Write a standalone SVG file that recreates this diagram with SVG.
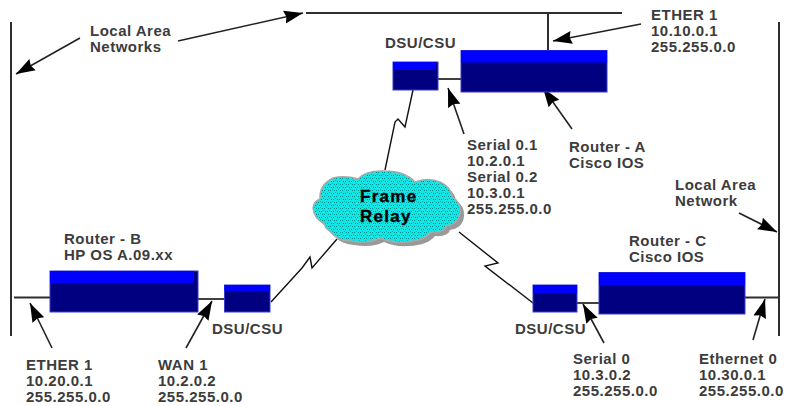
<svg xmlns="http://www.w3.org/2000/svg" width="785" height="406" viewBox="0 0 785 406">
<style>
text{font-family:"Liberation Sans",Arial,sans-serif;font-weight:700;font-size:15px;letter-spacing:.5px;fill:#3c3c3c}
.fr{font-size:17px;letter-spacing:1.300px;fill:#000;stroke:#000;stroke-width:.3px}
.body{fill:#000080;stroke:#3a3ad0;stroke-width:1}
.top{fill:#0000ff}
.bus{stroke:#2e2e2e;stroke-width:2;fill:none}
.link{stroke:#111;stroke-width:1.6;fill:none}
.zig{stroke:#111;stroke-width:1.4;fill:none}
.arr{stroke:#222;stroke-width:1.6;fill:none;marker-end:url(#ah)}
</style>
<defs>
<marker id="ah" markerUnits="userSpaceOnUse" markerWidth="20" markerHeight="14" refX="19" refY="7" orient="auto">
<path d="M0,0.500 L19,7 L0,13.500 L2,7 Z" fill="#000"/>
</marker>
<pattern id="dots" width="6" height="6" patternUnits="userSpaceOnUse">
<rect width="6" height="6" fill="#10e8e8"/>
<rect x="1" y="1" width="1" height="1" fill="#088"/>
<rect x="3" y="1" width="1" height="1" fill="#088"/>
<rect x="4" y="4" width="1" height="1" fill="#088"/>
<rect x="0" y="4" width="1" height="1" fill="#088"/>
<rect x="2" y="3" width="1" height="1" fill="#2aa"/>
<rect x="5" y="0" width="1" height="1" fill="#2aa"/>
</pattern>
<path id="cloudShape" d="M313,208 Q314,201 320,199 Q319,185 333,178 Q345,175 358,179 Q366,170 385,171 Q405,171 415,182 Q428,177 440,182 Q451,187 452,197 Q461,202 460,212 Q459,224 446,226 Q444,233 431,232 Q424,241 405,242 Q390,243 380,238 Q368,244 350,241 Q336,240 331,232 Q324,228 325,224 Q314,219 313,208 Z"/>
</defs>

<g id="connectors">
<path class="bus" d="M11,22V336"/>
<path class="bus" d="M306,13H622"/>
<path class="bus" d="M548,13V50"/>
<path class="bus" d="M779,22V336"/>
<path class="bus" d="M14,297.500H50"/>
<path class="bus" d="M745,297.500H779"/>
<path class="link" d="M438,79H461"/>
<path class="link" d="M198,299H224"/>
<path class="link" d="M577,303H599"/>
<path class="zig" d="M413,90L405,127L398,119L395,122L385,170"/>
<path class="zig" d="M271,302L302,268L310,257L312,268L337,239"/>
<path class="zig" d="M459,232L498,263L485,266L533,303"/>
<path class="arr" d="M80,38L16,74"/>
<path class="arr" d="M178,41L303,13"/>
<path class="arr" d="M641,24L553,41"/>
<path class="arr" d="M464,134L448,88"/>
<path class="arr" d="M572,129L543,88"/>
<path class="arr" d="M739,213L777,232"/>
<path class="arr" d="M52,348L30,303"/>
<path class="arr" d="M186,348L212,301"/>
<path class="arr" d="M604,343L583,304"/>
<path class="arr" d="M753,340L765,299"/>
</g>

<g id="router-a">
<rect class="body" x="461" y="50.500" width="146" height="41.500"/>
<rect class="top" x="461" y="50.500" width="146" height="12"/>
<text x="569" y="152">Router - A</text>
<text x="569" y="168">Cisco IOS</text>
</g>
<g id="dsu-a">
<rect class="body" x="393" y="62" width="45" height="28"/>
<rect class="top" x="393" y="62" width="43" height="8"/>
<text x="385" y="48">DSU/CSU</text>
</g>
<g id="router-b">
<rect class="body" x="50" y="271" width="148" height="41"/>
<rect class="top" x="50" y="271" width="144" height="12"/>
<text x="64" y="244">Router - B</text>
<text x="64" y="260">HP OS A.09.xx</text>
</g>
<g id="dsu-b">
<rect class="body" x="224.500" y="285" width="45.500" height="27"/>
<rect class="top" x="224.500" y="285" width="45.500" height="6"/>
<text x="212" y="334">DSU/CSU</text>
</g>
<g id="router-c">
<rect class="body" x="599" y="272.500" width="146" height="41.500"/>
<rect class="top" x="599" y="272.500" width="146" height="12.500"/>
<text x="629" y="246">Router - C</text>
<text x="629" y="262">Cisco IOS</text>
</g>
<g id="dsu-c">
<rect class="body" x="533" y="285" width="44" height="27"/>
<rect class="top" x="533" y="285" width="44" height="8"/>
<text x="515" y="334">DSU/CSU</text>
</g>
<g id="frame-relay">
<use href="#cloudShape" transform="translate(4,4)" fill="#999"/>
<use href="#cloudShape" fill="url(#dots)" stroke="#aaa" stroke-width="1.500"/>
<text class="fr" x="360" y="202">Frame</text>
<text class="fr" x="360" y="222">Relay</text>
</g>
<g id="labels">
<text x="90" y="36">Local Area</text>
<text x="90" y="52">Networks</text>
<text x="651" y="20">ETHER 1</text>
<text x="651" y="36">10.10.0.1</text>
<text x="651" y="52">255.255.0.0</text>
<text x="467" y="150">Serial 0.1</text>
<text x="467" y="166">10.2.0.1</text>
<text x="467" y="182">Serial 0.2</text>
<text x="467" y="198">10.3.0.1</text>
<text x="467" y="214">255.255.0.0</text>
<text x="675" y="190">Local Area</text>
<text x="675" y="206">Network</text>
<text x="26" y="370">ETHER 1</text>
<text x="26" y="386">10.20.0.1</text>
<text x="26" y="402">255.255.0.0</text>
<text x="158" y="370">WAN 1</text>
<text x="158" y="386">10.2.0.2</text>
<text x="158" y="402">255.255.0.0</text>
<text x="573" y="364">Serial 0</text>
<text x="573" y="380">10.3.0.2</text>
<text x="573" y="396">255.255.0.0</text>
<text x="699" y="364">Ethernet 0</text>
<text x="699" y="380">10.30.0.1</text>
<text x="699" y="396">255.255.0.0</text>
</g>
</svg>
